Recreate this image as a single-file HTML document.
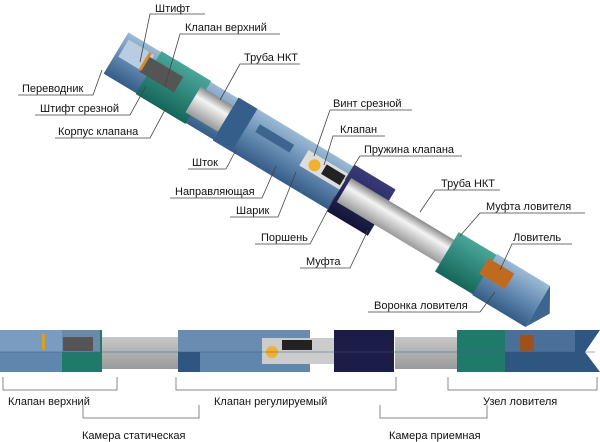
<!DOCTYPE html>
<html><head><meta charset="utf-8"><style>
html,body{margin:0;padding:0;background:#fff;}
svg{display:block;}
text{font-family:"Liberation Sans",sans-serif;font-size:11px;fill:#111;}
</style></head><body>
<svg width="600" height="442" viewBox="0 0 600 442">
<defs>
<linearGradient id="bl" x1="0" y1="0" x2="0" y2="1"><stop offset="0" stop-color="#9dbad6"/><stop offset=".45" stop-color="#6a90b6"/><stop offset="1" stop-color="#345c86"/></linearGradient>
<linearGradient id="gr" x1="0" y1="0" x2="0" y2="1"><stop offset="0" stop-color="#8a8a8a"/><stop offset=".35" stop-color="#f4f4f4"/><stop offset="1" stop-color="#9a9a9a"/></linearGradient>
<linearGradient id="tl" x1="0" y1="0" x2="0" y2="1"><stop offset="0" stop-color="#4aa69a"/><stop offset="1" stop-color="#15665a"/></linearGradient>
<linearGradient id="nv" x1="0" y1="0" x2="0" y2="1"><stop offset="0" stop-color="#3a3a7a"/><stop offset="1" stop-color="#141438"/></linearGradient>
<linearGradient id="sg" x1="0" y1="0" x2="0" y2="1"><stop offset="0" stop-color="#c8c8c8"/><stop offset=".5" stop-color="#b0b0b0"/><stop offset="1" stop-color="#9a9a9a"/></linearGradient>
</defs>
<g transform="translate(116,53) rotate(31)">
  <rect x="0" y="-24" width="128" height="48" fill="url(#bl)"/>
  <rect x="4" y="-18" width="30" height="20" fill="#b8cde2"/>
  <rect x="38" y="-25" width="58" height="50" fill="url(#tl)"/>
  <rect x="30" y="-14" width="40" height="18" fill="#555"/>
  <rect x="28" y="-18" width="3" height="20" fill="#d98a20"/>
  <rect x="90" y="-15" width="180" height="30" fill="url(#gr)"/>
  <rect x="128" y="-25" width="138" height="50" fill="url(#bl)"/>
  <rect x="128" y="-25" width="22" height="50" fill="#355e8a"/>
  <rect x="160" y="-13" width="40" height="9" fill="#3d6590"/>
  <rect x="215" y="-16" width="48" height="18" fill="#ddd"/>
  <circle cx="228" cy="-6" r="6" fill="#f0b030"/>
  <rect x="238" y="-13" width="22" height="11" fill="#222"/>
  <rect x="262" y="-27" width="48" height="54" fill="url(#nv)"/>
  <rect x="266" y="-14" width="130" height="28" fill="url(#gr)"/>
  <rect x="386" y="-23" width="46" height="46" fill="url(#tl)"/>
  <rect x="430" y="-24" width="62" height="48" fill="url(#bl)"/>
  <rect x="425" y="-16" width="30" height="18" fill="#c06a20"/>
  <polygon points="492,-24 506,0 492,24" fill="#3d6590"/>
</g>
<g stroke="#444" stroke-width="0.8" fill="none">
  <polyline points="205,14 150,14 140,62"/>
  <polyline points="280,34 180,34 165,86"/>
  <polyline points="300,64 240,64 220,100"/>
  <polyline points="18,95 93,95 102,70"/>
  <polyline points="35,115 130,115 146,86"/>
  <polyline points="55,138 150,138 166,108"/>
  <polyline points="188,169 226,169 236,150"/>
  <polyline points="170,198 262,198 276,166"/>
  <polyline points="230,217 278,217 296,172"/>
  <polyline points="412,110 330,110 314,156"/>
  <polyline points="385,136 333,136 324,165"/>
  <polyline points="462,156 360,156 345,180"/>
  <polyline points="255,244 310,244 335,196"/>
  <polyline points="500,190 435,190 420,212"/>
  <polyline points="300,268 350,268 368,230"/>
  <polyline points="585,213 480,213 460,236"/>
  <polyline points="572,244 512,244 500,270"/>
  <polyline points="368,312 480,312 495,292"/>
</g>
<text x="155" y="12">Штифт</text>
<text x="185" y="31">Клапан верхний</text>
<text x="244" y="61">Труба НКТ</text>
<text x="22" y="92">Переводник</text>
<text x="40" y="112">Штифт срезной</text>
<text x="58" y="135">Корпус клапана</text>
<text x="192" y="166">Шток</text>
<text x="175" y="195">Направляющая</text>
<text x="236" y="214">Шарик</text>
<text x="333" y="107">Винт срезной</text>
<text x="340" y="133">Клапан</text>
<text x="364" y="153">Пружина клапана</text>
<text x="261" y="241">Поршень</text>
<text x="441" y="187">Труба НКТ</text>
<text x="306" y="265">Муфта</text>
<text x="486" y="210">Муфта ловителя</text>
<text x="513" y="241">Ловитель</text>
<text x="374" y="309">Воронка ловителя</text>
<rect x="100" y="337" width="80" height="32" fill="url(#sg)"/>
<rect x="395" y="337" width="62" height="32" fill="url(#sg)"/>
<rect x="0" y="330" width="62" height="42" fill="#5f86ad"/>
<rect x="0" y="330" width="62" height="22" fill="#7a9cc0"/>
<rect x="62" y="330" width="40" height="42" fill="#1f7a6a"/>
<rect x="62" y="330" width="38" height="22" fill="#6a8aa8"/>
<rect x="63" y="337" width="30" height="14" fill="#555"/>
<rect x="42" y="334" width="3" height="16" fill="#d9a020"/>
<rect x="178" y="330" width="132" height="42" fill="#5f86ad"/>
<rect x="178" y="330" width="22" height="42" fill="#2f5680"/>
<rect x="178" y="330" width="132" height="22" fill="#6a8cb0"/>
<rect x="262" y="338" width="72" height="26" fill="#ccc"/>
<circle cx="272" cy="352" r="6" fill="#f0b030"/>
<rect x="282" y="340" width="30" height="10" fill="#222"/>
<rect x="334" y="330" width="60" height="42" fill="#1c1c48"/>
<rect x="457" y="330" width="48" height="42" fill="#1f7a6a"/>
<rect x="505" y="330" width="70" height="42" fill="#2f5680"/>
<rect x="505" y="330" width="70" height="22" fill="#4a6f98"/>
<rect x="520" y="335" width="14" height="16" fill="#a0501a"/>
<polygon points="575,330 600,330 585,352 600,372 575,372" fill="#2f5680"/>
<line x1="0" y1="352" x2="595" y2="352" stroke="#3d5e80" stroke-width="0.6"/>
<g stroke="#888" stroke-width="1" fill="none">
  <polyline points="3,377 3,390 117,390 117,377"/>
  <polyline points="176,377 176,390 396,390 396,377"/>
  <polyline points="448,377 448,390 597,390 597,377"/>
  <polyline points="83,405 83,418 199,418 199,405"/>
  <polyline points="380,405 380,418 487,418 487,405"/>
</g>
<text x="8" y="405">Клапан верхний</text>
<text x="214" y="405">Клапан регулируемый</text>
<text x="483" y="405">Узел ловителя</text>
<text x="82" y="439">Камера статическая</text>
<text x="389" y="439">Камера приемная</text>
</svg>
</body></html>
